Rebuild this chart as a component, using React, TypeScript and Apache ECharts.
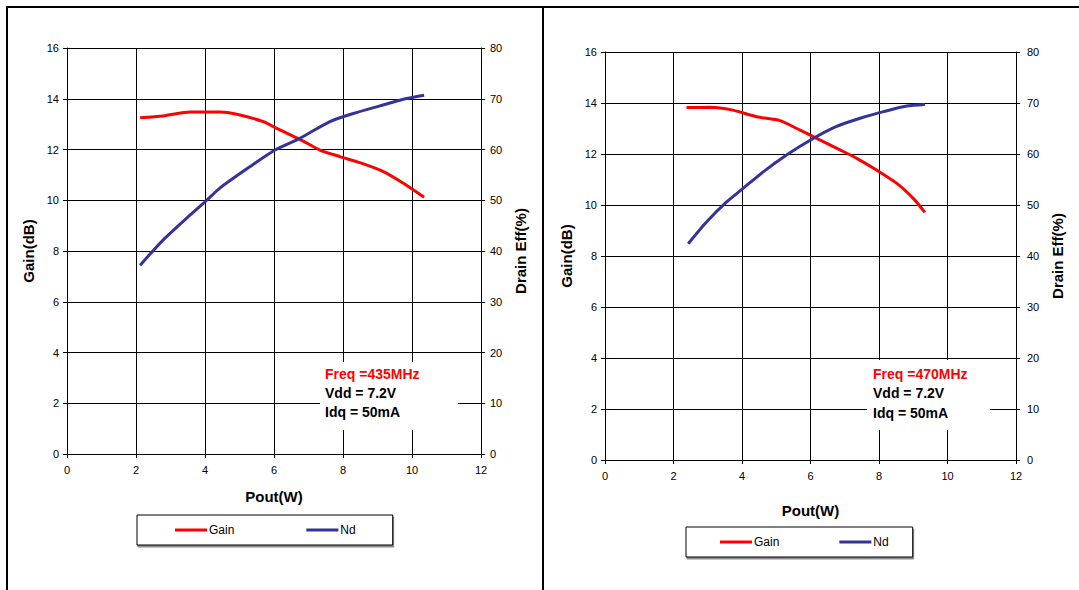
import React, { useEffect, useRef } from "react";
import * as echarts from "echarts";

// ---- Data ----
const leftGainPout = [2.12, 2.79, 3.57, 4.43, 4.92, 5.69, 6.08, 6.75, 7.33, 7.91, 8.49, 9.17, 9.75, 10.35];
const leftGain = [13.25, 13.32, 13.48, 13.48, 13.39, 13.1, 12.83, 12.4, 11.98, 11.72, 11.48, 11.13, 10.67, 10.12];
const leftNdPout = [2.12, 2.79, 3.57, 4.05, 4.43, 5.3, 6.03, 6.75, 7.62, 8.3, 9.07, 9.75, 10.35];
const leftNd = [37.2, 42.2, 47.1, 50, 52.4, 56.6, 59.9, 62.2, 65.5, 67.1, 68.6, 69.9, 70.7];

const rightGainPout = [2.38, 3.07, 3.7, 4.43, 5.11, 5.6, 6.18, 6.86, 7.35, 7.93, 8.52, 9.0, 9.34];
const rightGain = [13.82, 13.83, 13.73, 13.46, 13.31, 13.0, 12.61, 12.16, 11.83, 11.37, 10.85, 10.26, 9.71];
const rightNdPout = [2.43, 2.97, 3.55, 4.04, 4.62, 5.3, 5.99, 6.76, 7.45, 8.13, 8.81, 9.34];
const rightNd = [42.4, 46.7, 50.6, 53.3, 56.5, 59.8, 62.7, 65.4, 67.0, 68.3, 69.4, 69.7];

const leftNotes = ["Freq =435MHz", "Vdd = 7.2V", "Idq = 50mA"];
const rightNotes = ["Freq =470MHz", "Vdd = 7.2V", "Idq = 50mA"];

const FONT = "'Liberation Sans', Arial, Helvetica, sans-serif";
const RED = "#ff0000";
const BLUE = "#333399";

type Layout = {
  gridLeft: number; gridTop: number; gridW: number; gridH: number;
  legendLeft: number; legendTop: number; legendPad: number[]; legendGap: number;
  boxX: number; boxY: number; boxW: number; boxH: number; textX: number; textY: number[];
  leftNameGap: number; rightNameGap: number; xNameGap: number; rightLabelMargin: number;
};

const zip = (xs: number[], ys: number[]) => xs.map((x, i) => [x, ys[i]]);

function buildOption(gx: number[], gy: number[], nx: number[], ny: number[], notes: string[], L: Layout) {
  const axisLine = { show: true, lineStyle: { color: "#000", width: 1 } };
  const tick = { show: true, length: 4, lineStyle: { color: "#000" } };
  const label = { color: "#000", fontSize: 11, fontFamily: FONT };
  const nameStyle = { color: "#000", fontSize: 15, fontWeight: "bold" as const, fontFamily: FONT };
  return {
    animation: false,
    textStyle: { fontFamily: FONT },
    grid: { left: L.gridLeft, top: L.gridTop, width: L.gridW, height: L.gridH, containLabel: false },
    xAxis: {
      type: "value", min: 0, max: 12, interval: 2,
      name: "Pout(W)", nameLocation: "middle", nameGap: L.xNameGap, nameTextStyle: nameStyle,
      axisLine, axisTick: tick, axisLabel: { ...label, margin: 10 },
      splitLine: { show: true, lineStyle: { color: "#000", width: 1 } },
    },
    yAxis: [
      {
        type: "value", min: 0, max: 16, interval: 2, position: "left",
        name: "Gain(dB)", nameLocation: "middle", nameGap: L.leftNameGap, nameTextStyle: nameStyle,
        axisLine, axisTick: tick, axisLabel: { ...label, margin: 8 },
        splitLine: { show: true, lineStyle: { color: "#000", width: 1 } },
      },
      {
        type: "value", min: 0, max: 80, interval: 10, position: "right",
        name: "Drain Eff(%)", nameLocation: "middle", nameGap: L.rightNameGap, nameTextStyle: nameStyle,
        axisLine, axisTick: tick, axisLabel: { ...label, margin: L.rightLabelMargin },
        splitLine: { show: false },
      },
    ],
    legend: {
      left: L.legendLeft, top: L.legendTop,
      padding: L.legendPad, itemGap: L.legendGap,
      itemWidth: 32, itemHeight: 3, icon: "rect",
      borderColor: "#000", borderWidth: 1, backgroundColor: "#fff",
      shadowColor: "rgba(0,0,0,0.45)", shadowOffsetX: 1, shadowOffsetY: 2, shadowBlur: 0,
      textStyle: { color: "#000", fontSize: 12, fontFamily: FONT, padding: [0, 0, 0, -3] },
      data: ["Gain", "Nd"],
    },
    series: [
      {
        name: "Gain", type: "line", yAxisIndex: 0, data: zip(gx, gy), smooth: 0.25,
        showSymbol: false, lineStyle: { color: RED, width: 3 }, itemStyle: { color: RED }, z: 5,
      },
      {
        name: "Nd", type: "line", yAxisIndex: 1, data: zip(nx, ny), smooth: 0.25,
        showSymbol: false, lineStyle: { color: BLUE, width: 3 }, itemStyle: { color: BLUE }, z: 5,
      },
    ],
    graphic: [
      { type: "rect", shape: { x: L.boxX, y: L.boxY, width: L.boxW, height: L.boxH }, style: { fill: "#fff" }, z: 10 },
      ...notes.map((t, i) => ({
        type: "text", x: L.textX, y: L.textY[i], z: 11,
        style: {
          text: t, fill: i === 0 ? RED : "#000", fontSize: 14, fontWeight: "bold", fontFamily: FONT,
          textVerticalAlign: "middle", verticalAlign: "middle",
        },
      })),
    ],
  };
}

function Panel(props: { left: number; width: number; option: any }) {
  const ref = useRef<HTMLDivElement>(null);
  useEffect(() => {
    if (!ref.current) return;
    const chart = echarts.init(ref.current, null, { renderer: "svg" });
    chart.setOption(props.option);
    return () => chart.dispose();
  }, []);
  return (
    <div ref={ref} style={{ position: "absolute", left: props.left, top: 0, width: props.width, height: 590 }} />
  );
}

const leftLayout: Layout = {
  gridLeft: 67, gridTop: 48, gridW: 414, gridH: 406,
  legendLeft: 137, legendTop: 515, legendPad: [9, 37, 9, 38], legendGap: 72,
  boxX: 320, boxY: 362, boxW: 138, boxH: 68, textX: 325, textY: [374, 393, 411.5],
  leftNameGap: 30, rightNameGap: 31, xNameGap: 35, rightLabelMargin: 9,
};

const rightLayout: Layout = {
  gridLeft: 62, gridTop: 52, gridW: 411, gridH: 408,
  legendLeft: 143, legendTop: 527, legendPad: [9, 24, 9, 34], legendGap: 60,
  boxX: 324, boxY: 360, boxW: 123, boxH: 70, textX: 330, textY: [374, 393, 413],
  leftNameGap: 31, rightNameGap: 33, xNameGap: 43, rightLabelMargin: 11,
};

export default function App() {
  useEffect(() => {
    document.body.style.margin = "0";
  }, []);
  const leftOpt = buildOption(leftGainPout, leftGain, leftNdPout, leftNd, leftNotes, leftLayout);
  const rightOpt = buildOption(rightGainPout, rightGain, rightNdPout, rightNd, rightNotes, rightLayout);
  return (
    <div style={{ position: "relative", width: 1079, height: 590, overflow: "hidden", background: "#fff" }}>
      <Panel left={0} width={543} option={leftOpt} />
      <Panel left={543} width={536} option={rightOpt} />
      <div style={{ position: "absolute", left: 6, top: 6, width: 1073, height: 2, background: "#000" }} />
      <div style={{ position: "absolute", left: 6, top: 6, width: 2, height: 584, background: "#000" }} />
      <div style={{ position: "absolute", left: 542, top: 6, width: 2, height: 584, background: "#000" }} />
    </div>
  );
}
